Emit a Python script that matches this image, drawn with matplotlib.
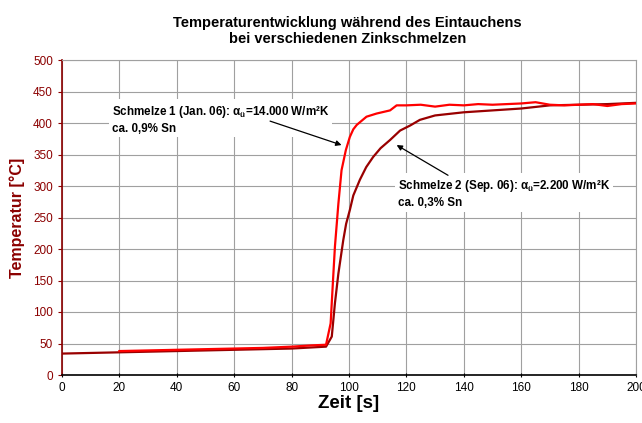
import matplotlib
matplotlib.use("Agg")
import matplotlib.pyplot as plt

plt.rcParams['font.family'] = ['Liberation Sans', 'DejaVu Sans']
plt.rcParams['mathtext.fontset'] = 'custom'
plt.rcParams['mathtext.rm'] = 'Liberation Sans:bold'
plt.rcParams['mathtext.it'] = 'Liberation Sans:bold'
plt.rcParams['mathtext.bf'] = 'Liberation Sans:bold'

# Schmelze 1 (Jan. 06)
zeit_1 = [20, 30, 40, 50, 60, 70, 80, 87, 92, 93.6, 94.5, 95.1, 96.3, 97.4,
          98.9, 100.3, 101.5, 102.7, 106.1, 109.6, 114.3, 116.6, 120, 125, 130, 135,
          140, 145, 150, 155, 160, 165, 170, 175, 180, 185, 190, 195, 200]
temp_1 = [38, 39, 40, 41, 42, 43, 45, 47, 48, 82, 156, 204, 272, 325,
          357, 378, 390, 397, 410, 415, 420, 428, 428, 429, 426, 429,
          428, 430, 429, 430, 431, 433, 429, 428, 429, 430, 427, 430, 431]

# Schmelze 2 (Sep. 06)
zeit_2 = [0, 20, 40, 60, 80, 88, 92, 94, 95.1, 96.3, 98, 99, 100.3, 101.5, 103.8,
          106, 108.4, 111, 114.3, 117.8, 121.3, 124.7, 130, 140, 150, 160, 170,
          180, 190, 200]
temp_2 = [34, 36, 38, 40, 42, 44, 45, 61, 114, 161, 214, 240, 262, 285, 310,
          330, 346, 360, 373, 388, 396, 405, 412, 417, 420, 423, 428,
          429, 430, 432]

dunkelrot = '#8B0000'

fig = plt.figure(figsize=(6.42, 4.23), dpi=100)
ax = fig.add_axes([62 / 642, 1 - 375 / 423, 574 / 642, 315 / 423])

ax.plot(zeit_2, temp_2, color='#990000', lw=1.6, zorder=3)
ax.plot(zeit_1, temp_1, color='#FF0000', lw=1.6, zorder=4)

ax.set_xlim(0, 200)
ax.set_ylim(0, 500)
ax.set_xticks(range(0, 201, 20))
ax.set_yticks(range(0, 501, 50))
ax.grid(True, color='#A0A0A0', lw=0.8)
ax.set_axisbelow(True)

for s in ['top', 'right']:
    ax.spines[s].set_color('#A0A0A0')
    ax.spines[s].set_linewidth(0.8)
ax.spines['left'].set_color(dunkelrot)
ax.spines['left'].set_linewidth(1.2)
ax.spines['bottom'].set_color('black')
ax.spines['bottom'].set_linewidth(1.2)

ax.tick_params(axis='y', colors=dunkelrot, labelsize=8.5, length=3, direction='out')
ax.tick_params(axis='x', colors='black', labelsize=8.5, length=3, direction='inout')

ax.set_ylabel('Temperatur [°C]', color=dunkelrot, fontsize=11.5, fontweight='bold')
ax.yaxis.set_label_coords(-0.065, 0.5)
ax.set_xlabel('Zeit [s]', fontsize=13.5, fontweight='bold', labelpad=1)

fig.text(0.541, 0.927, 'Temperaturentwicklung während des Eintauchens\nbei verschiedenen Zinkschmelzen',
         ha='center', va='center', fontsize=10.5, fontweight='bold', linespacing=1.15)

box = dict(facecolor='white', edgecolor='none', pad=2)
ax.text(17.3, 406, 'Schmelze 1 (Jan. 06): $\\alpha_{ü}$=14.000 W/m²K\nca. 0,9% Sn',
        fontsize=8.4, fontweight='bold', ha='left', va='center',
        linespacing=1.3, bbox=box, zorder=5)
ax.text(117.1, 288, 'Schmelze 2 (Sep. 06): $\\alpha_{ü}$=2.200 W/m²K\nca. 0,3% Sn',
        fontsize=8.4, fontweight='bold', ha='left', va='center',
        linespacing=1.3, bbox=box, zorder=5)

pfeil = dict(arrowstyle='-|>', color='black', lw=0.9, mutation_scale=8,
             shrinkA=0, shrinkB=0)
ax.annotate('', xy=(97.4, 365), xytext=(72.5, 403), arrowprops=pfeil, zorder=6)
ax.annotate('', xy=(116.6, 365), xytext=(134.5, 317), arrowprops=pfeil, zorder=6)

fig.savefig('out.png', dpi=100)
